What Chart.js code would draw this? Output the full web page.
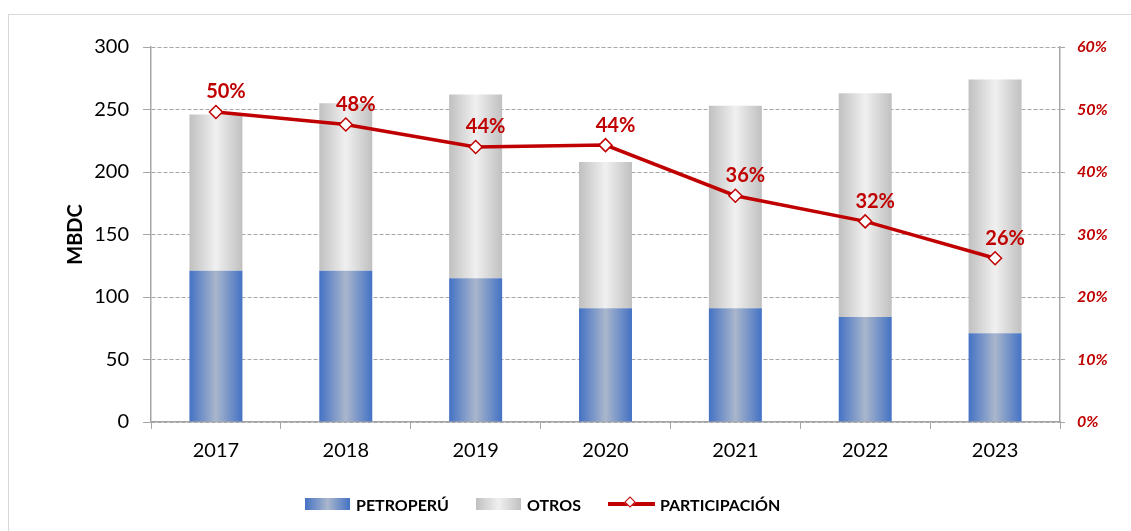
<!DOCTYPE html>
<html>
<head>
<meta charset="utf-8">
<script src="https://cdn.jsdelivr.net/npm/chart.js@4"></script>
<style>
  html, body { margin: 0; padding: 0; background: #fff; overflow: hidden; }
  #frame { position: absolute; left: 8px; top: 14px; width: 1200px; height: 600px;
           border-left: 1px solid #d9d9d9; border-top: 1px solid #d9d9d9; }
  #wrap { position: absolute; left: 0; top: 0; width: 1131px; height: 531px; }
  #legend { position: absolute; left: 305px; top: 494px; display: flex; align-items: center;
            font-family: Lato, sans-serif; font-weight: bold; font-size: 16px; color: #000; }
  .box { width: 45px; height: 12px; margin-right: 6px; }
  .item { display: flex; align-items: center; margin-right: 27px; height: 20px; }
  .ln { position: relative; width: 47px; height: 4px; background: #c00000; margin-right: 5px; }
  .ln span { position: absolute; left: 18px; top: -4px; width: 8px; height: 8px; background: #fff;
             border: 1.5px solid #c00000; transform: rotate(45deg); box-sizing: border-box; }
</style>
</head>
<body>
<div id="frame"></div>
<div id="wrap"><canvas id="chart" width="1131" height="531"></canvas></div>
<div id="legend">
  <div class="item"><div class="box" style="background: linear-gradient(to right, #4472c4, #a9b6cc 50%, #4472c4)"></div>PETROPERÚ</div>
  <div class="item"><div class="box" style="background: linear-gradient(to right, #c0c0c0, #f0f0f0 50%, #c0c0c0)"></div>OTROS</div>
  <div class="item" style="margin-right:0"><div class="ln"><span></span></div>PARTICIPACIÓN</div>
</div>
<script>
// values
var years = ['2017', '2018', '2019', '2020', '2021', '2022', '2023'];
var petroperu = [121, 121, 115, 91, 91, 84, 71];          // MBDC
var otros = [125, 134, 147, 117, 162, 179, 203];          // MBDC
var participacion = [49.6, 47.6, 44.0, 44.3, 36.2, 32.1, 26.2]; // %

var RED = '#c00000';
var BAR_PCT = 0.408;

// horizontal gradient across each bar, like the Excel fill
function barGradient(edge, mid) {
    return function(c) {
        var chart = c.chart;
        var xs = chart.scales.x;
        if (!xs || c.dataIndex === undefined || !chart.chartArea) return edge;
        var cx = xs.getPixelForValue(c.dataIndex);
        var w = xs.width / years.length * BAR_PCT;
        var g = chart.ctx.createLinearGradient(cx - w / 2, 0, cx + w / 2, 0);
        g.addColorStop(0, edge);
        g.addColorStop(0.5, mid);
        g.addColorStop(1, edge);
        return g;
    };
}

// percent labels above the line points
var pctLabels = {
    id: 'pctLabels',
    afterDatasetsDraw: function(chart) {
        var meta = chart.getDatasetMeta(2);
        var ctx = chart.ctx;
        ctx.save();
        ctx.font = 'bold 20px Lato, sans-serif';
        ctx.fillStyle = RED;
        ctx.textAlign = 'center';
        ctx.textBaseline = 'middle';
        meta.data.forEach(function(p, i) {
            ctx.fillText(Math.round(participacion[i]) + '%', p.x + 10, p.y - 20);
        });
        ctx.restore();
    }
};

var ctx = document.getElementById('chart').getContext('2d');
new Chart(ctx, {
    type: 'bar',
    data: {
        labels: years,
        datasets: [{
            label: 'PETROPERÚ',
            data: petroperu,
            backgroundColor: barGradient('#4472c4', '#a9b6cc'),
            barPercentage: BAR_PCT,
            categoryPercentage: 1,
            order: 2
        }, {
            label: 'OTROS',
            data: otros,
            backgroundColor: barGradient('#c0c0c0', '#f0f0f0'),
            barPercentage: BAR_PCT,
            categoryPercentage: 1,
            order: 2
        }, {
            type: 'line',
            label: 'PARTICIPACIÓN',
            data: participacion,
            yAxisID: 'y1',
            borderColor: RED,
            borderWidth: 3.5,
            tension: 0,
            pointStyle: 'rectRot',
            pointRadius: 6.5,
            pointBackgroundColor: '#fff',
            pointBorderColor: RED,
            pointBorderWidth: 1.5,
            order: 1
        }]
    },
    options: {
        responsive: false,
        animation: false,
        events: [],
        layout: { padding: { left: 60, top: 47, right: 0, bottom: 0 } },
        plugins: { legend: { display: false }, tooltip: { enabled: false } },
        scales: {
            x: {
                stacked: true,
                afterFit: function(s) { s.height = 109; },
                grid: { offset: true, drawOnChartArea: false, tickLength: 7, color: '#a6a6a6' },
                border: { color: '#a6a6a6', width: 1.5 },
                ticks: { color: '#000', padding: 10, font: { family: 'Lato', size: 20 } }
            },
            y: {
                stacked: true,
                min: 0, max: 300,
                afterFit: function(s) { s.width = 91; },
                ticks: { stepSize: 50, color: '#000', padding: 14, font: { family: 'Lato', size: 20 } },
                grid: { color: '#a6a6a6', tickLength: 8, lineWidth: 1 },
                border: { color: '#a6a6a6', width: 1.5, dash: [4, 2] },
                title: { display: true, text: 'MBDC', color: '#000', font: { family: 'Lato', size: 20, weight: 'bold' } }
            },
            y1: {
                position: 'right',
                min: 0, max: 60,
                afterFit: function(s) { s.width = 71; },
                ticks: {
                    stepSize: 10, color: RED, padding: 12,
                    font: { family: 'Lato', size: 16, weight: 'bold', style: 'italic' },
                    callback: function(v) { return v + '%'; }
                },
                grid: { drawOnChartArea: false, color: '#a6a6a6', tickLength: 5 },
                border: { color: '#a6a6a6', width: 1.5, dash: [4, 2] }
            }
        }
    },
    plugins: [pctLabels]
});
</script>
</body>
</html>
